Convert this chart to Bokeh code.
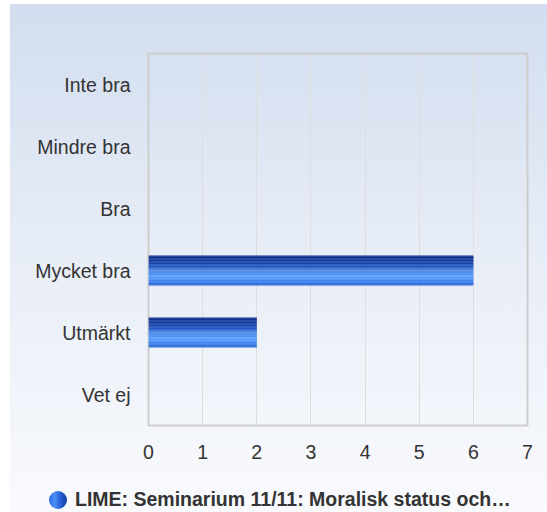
from bokeh.plotting import figure
from bokeh.layouts import column
from bokeh.models import FactorRange, Range1d, FixedTicker, ColumnDataSource, Div
from bokeh.transform import dodge
from bokeh.embed import file_html
from bokeh.resources import INLINE

# ---- data ----
categories = ["Inte bra", "Mindre bra", "Bra", "Mycket bra", "Utmärkt", "Vet ej"]
counts = [0, 0, 0, 6, 2, 0]
x_ticks = [0, 1, 2, 3, 4, 5, 6, 7]
series_name = "LIME: Seminarium 11/11: Moralisk status och…"

# ---- style ----
FONT = "Liberation Sans"
TEXT = "#333333"
BAR_H = 0.48
grad_stops = [(0.0, (10, 40, 130)), (0.3, (24, 74, 180)), (0.55, (52, 124, 232)),
              (0.7, (88, 160, 255)), (0.85, (62, 132, 240)), (1.0, (36, 100, 212))]


def grad_color(t):
    for (t0, c0), (t1, c1) in zip(grad_stops[:-1], grad_stops[1:]):
        if t0 <= t <= t1:
            f = (t - t0) / (t1 - t0)
            c = [round(a + (b - a) * f) for a, b in zip(c0, c1)]
            return "#%02x%02x%02x" % tuple(c)
    return "#%02x%02x%02x" % grad_stops[-1][1]


W = 537
H_MAIN, H_LEG = 474, 34
p = figure(width=W, height=H_MAIN, output_backend="svg", toolbar_location=None,
           y_range=FactorRange(factors=categories[::-1]),
           x_range=Range1d(0, 7),
           min_border_left=138, min_border_right=20, min_border_top=49, min_border_bottom=53)
p.border_fill_color = None
p.background_fill_color = None
p.outline_line_color = "#cdcdcd"
p.outline_line_width = 2

src = ColumnDataSource(dict(cat=categories, val=counts))
N = 40
for i in range(N):
    t = (i + 0.5) / N
    off = BAR_H / 2 - (i + 0.5) * BAR_H / N
    col = grad_color(t)
    p.hbar(y=dodge("cat", off, range=p.y_range), right="val", left=0, height=BAR_H / N * 1.3,
           source=src, fill_color=col, line_color=None)

# axes
for ax in (p.xaxis[0], p.yaxis[0]):
    ax.axis_line_color = None
    ax.major_tick_line_color = None
    ax.minor_tick_line_color = None
    ax.major_tick_in = 0
    ax.major_tick_out = 0
    ax.major_label_text_font = FONT
    ax.major_label_text_font_size = "19.5px"
    ax.major_label_text_color = TEXT
p.xaxis.ticker = FixedTicker(ticks=x_ticks)
p.xaxis.major_label_standoff = 19
p.yaxis.major_label_standoff = 18

p.xgrid.grid_line_color = "#dedede"
p.xgrid.grid_line_width = 1
p.ygrid.grid_line_color = None

# legend strip as HTML (a figure frame would clip the key outside the plot area)
legend_html = (
    f'<div style="position:relative;width:{W}px;height:{H_LEG}px;'
    f'font-family:\'{FONT}\';font-weight:bold;font-size:19.5px;line-height:22px;color:{TEXT};">'
    '<span style="position:absolute;left:38.5px;top:12.5px;width:18px;height:18px;border-radius:50%;'
    'background:linear-gradient(to right,#2a6de2 0%,#4b8ff4 30%,#2560d6 65%,#123a9e 100%);"></span>'
    f'<span style="position:absolute;left:65px;top:10px;white-space:nowrap;">{series_name}</span>'
    '</div>'
)
legend_div = Div(text=legend_html, width=W, height=H_LEG, margin=0)

layout = column(p, legend_div, spacing=0)
layout.styles = {"background": "linear-gradient(to bottom, #d2ddef 0%, #e6ecf6 45%, #f9fafd 100%)",
                 "margin-left": "10px", "margin-top": "4px"}

open("out.html", "w").write(file_html(layout, INLINE))
